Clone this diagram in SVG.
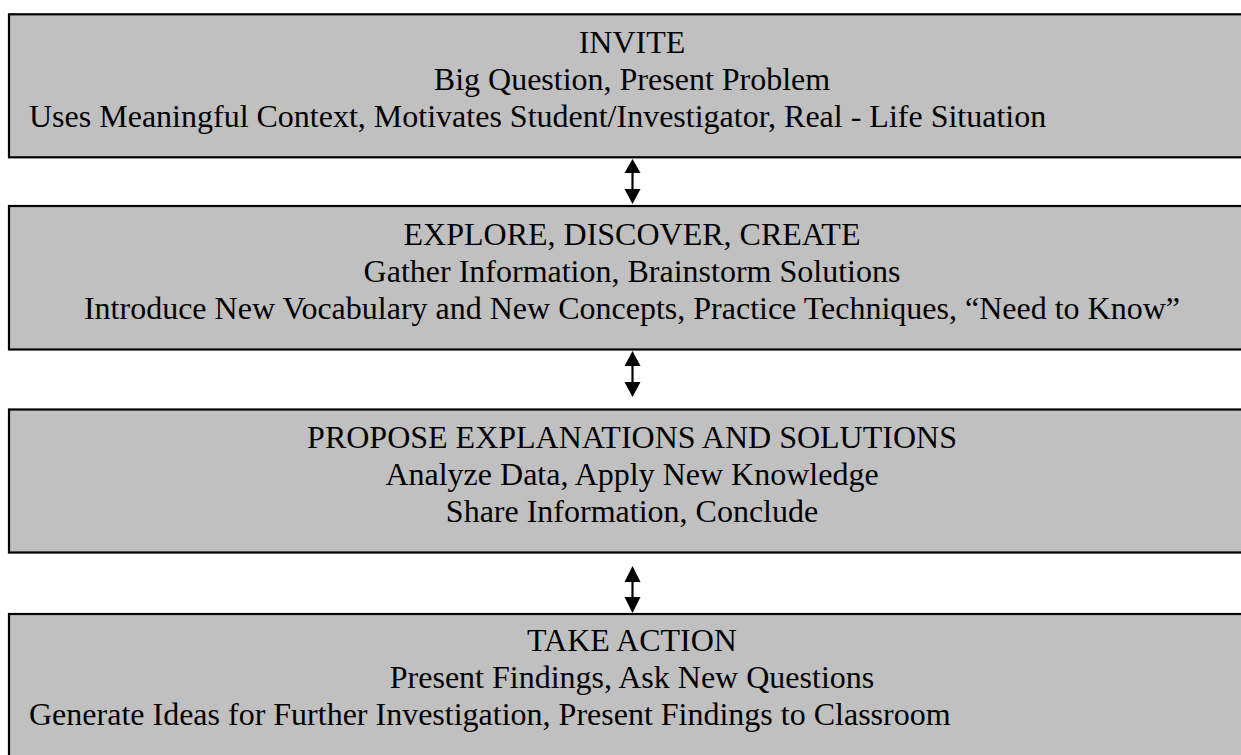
<svg xmlns="http://www.w3.org/2000/svg" width="1241" height="755" viewBox="0 0 1241 755">
<defs>
<style>
.box{fill:#C0C0C0;stroke:#000;stroke-width:2.2}
.t{font-family:"Liberation Serif","Times New Roman",serif;font-size:32px;fill:#000}
.c{text-anchor:middle}
.shaft{stroke:#000;stroke-width:2.2;fill:none}
.head{fill:#000}
</style>
</defs>
<rect width="1241" height="755" fill="#fff"/>
<g id="invite">
<rect class="box" x="9" y="14.3" width="1250" height="143"/>
<text class="t c" x="632" y="53">INVITE</text>
<text class="t c" x="632" y="90">Big Question, Present Problem</text>
<text class="t" x="29" y="127">Uses Meaningful Context, Motivates Student/Investigator, Real - Life Situation</text>
</g>
<g id="explore">
<rect class="box" x="9" y="206" width="1250" height="143.5"/>
<text class="t c" x="632" y="245">EXPLORE, DISCOVER, CREATE</text>
<text class="t c" x="632" y="282">Gather Information, Brainstorm Solutions</text>
<text class="t c" x="632" y="319">Introduce New Vocabulary and New Concepts, Practice Techniques, “Need to Know”</text>
</g>
<g id="propose">
<rect class="box" x="9" y="409.5" width="1250" height="143"/>
<text class="t c" x="632" y="447.5">PROPOSE EXPLANATIONS AND SOLUTIONS</text>
<text class="t c" x="632" y="484.5">Analyze Data, Apply New Knowledge</text>
<text class="t c" x="632" y="521.5">Share Information, Conclude</text>
</g>
<g id="take-action">
<rect class="box" x="9" y="614" width="1250" height="160"/>
<text class="t c" x="632" y="651">TAKE ACTION</text>
<text class="t c" x="632" y="688">Present Findings, Ask New Questions</text>
<text class="t" x="29" y="725">Generate Ideas for Further Investigation, Present Findings to Classroom</text>
</g>
<g id="connectors">
<line class="shaft" x1="632.5" y1="172" x2="632.5" y2="190"/>
<polygon class="head" points="632.5,159 624.5,173 640.5,173"/>
<polygon class="head" points="632.5,204 624.5,189 640.5,189"/>
<line class="shaft" x1="632.5" y1="365" x2="632.5" y2="383"/>
<polygon class="head" points="632.5,351 624.5,366 640.5,366"/>
<polygon class="head" points="632.5,397 624.5,382 640.5,382"/>
<line class="shaft" x1="632.5" y1="581" x2="632.5" y2="598"/>
<polygon class="head" points="632.5,566 624.5,582 640.5,582"/>
<polygon class="head" points="632.5,613 624.5,597 640.5,597"/>
</g>
</svg>
